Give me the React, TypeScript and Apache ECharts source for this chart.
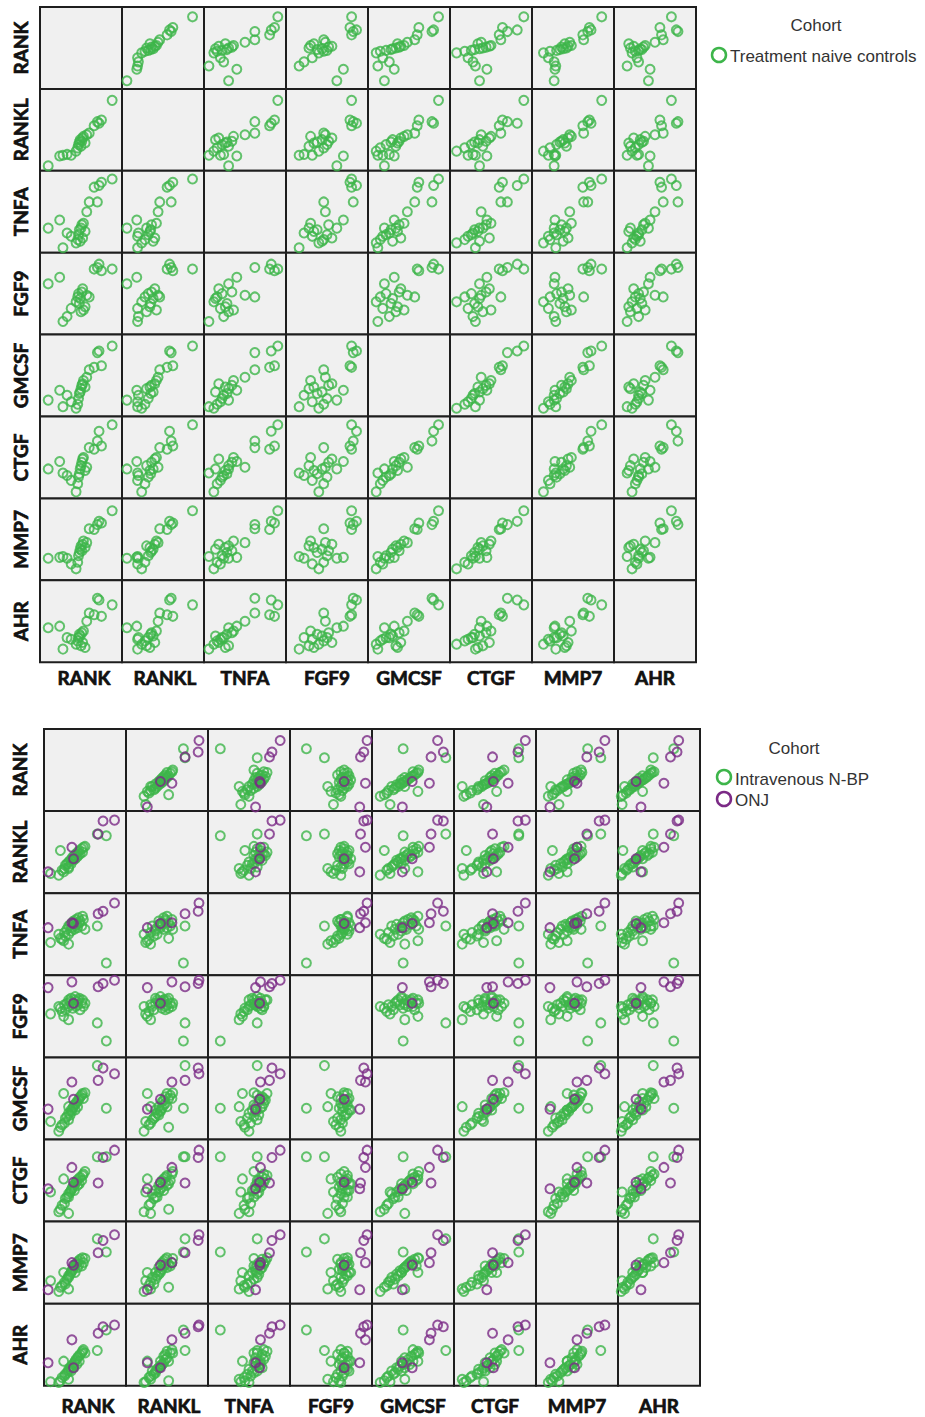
import React, { useEffect, useRef } from "react";
import * as echarts from "echarts";

const VARS = ["RANK", "RANKL", "TNFA", "FGF9", "GMCSF", "CTGF", "MMP7", "AHR"];

// Cohort 1: Treatment naive controls (one entry per subject)
const naiveRANK = [10, 24, 28, 33, 38, 44, 46, 47, 48, 49, 50, 51, 52, 53, 55, 57, 60, 66, 70, 72, 75, 88];
const naiveRANKL = [6, 18, 19, 20, 19, 24, 28, 32, 35, 38, 30, 36, 40, 42, 34, 44, 46, 55, 60, 58, 62, 86];
const naiveTNFA = [30, 40, 6, 24, 20, 12, 16, 22, 28, 14, 30, 34, 18, 36, 26, 50, 62, 80, 62, 82, 86, 90];
const naiveFGF9 = [62, 70, 16, 22, 32, 40, 46, 50, 38, 44, 28, 52, 56, 30, 34, 48, 46, 80, 82, 86, 78, 80];
const naiveGMCSF = [20, 32, 12, 26, 18, 10, 15, 22, 28, 30, 34, 38, 40, 44, 36, 48, 57, 60, 78, 80, 62, 86];
const naiveCTGF = [36, 45, 31, 28, 22, 8, 18, 26, 30, 36, 40, 44, 48, 50, 34, 38, 62, 60, 70, 82, 64, 90];
const naiveMMP7 = [27, 28, 29, 27, 20, 14, 22, 30, 34, 38, 42, 36, 44, 48, 40, 46, 63, 62, 68, 72, 70, 85];
const naiveAHR = [42, 44, 16, 30, 28, 22, 26, 30, 34, 32, 20, 36, 24, 38, 18, 50, 60, 58, 78, 76, 56, 70];

// Cohort 2a: Intravenous N-BP
const ivRANK = [8, 76, 65, 20, 18, 22, 25, 26, 28, 30, 30, 32, 33, 34, 35, 36, 37, 38, 39, 40, 41, 42, 43, 44, 46, 47, 48, 50, 30, 24];
const ivRANKL = [24, 70, 72, 52, 22, 28, 30, 34, 36, 32, 38, 40, 36, 42, 44, 40, 46, 42, 48, 44, 50, 46, 52, 48, 54, 50, 56, 57, 30, 26];
const ivTNFA = [40, 15, 60, 45, 50, 44, 52, 48, 56, 60, 50, 62, 54, 58, 64, 66, 56, 60, 68, 62, 58, 70, 64, 66, 60, 72, 68, 56, 38, 42];
const ivFGF9 = [53, 20, 42, 60, 62, 56, 64, 58, 66, 62, 70, 68, 72, 64, 60, 66, 70, 74, 62, 68, 64, 70, 72, 58, 66, 70, 62, 66, 46, 50];
const ivGMCSF = [22, 38, 90, 15, 10, 18, 20, 26, 28, 24, 32, 30, 36, 34, 38, 40, 42, 36, 44, 46, 40, 48, 50, 52, 54, 56, 50, 57, 40, 56];
const ivCTGF = [36, 79, 79, 15, 12, 20, 22, 28, 30, 34, 30, 36, 38, 40, 42, 44, 38, 46, 48, 50, 44, 52, 46, 54, 50, 56, 58, 61, 10, 52];
const ivMMP7 = [28, 63, 79, 20, 15, 22, 26, 24, 30, 32, 34, 36, 38, 40, 42, 44, 46, 38, 48, 50, 44, 52, 48, 54, 46, 56, 50, 55, 18, 38];
const ivAHR = [5, 68, 43, 6, 4, 10, 12, 14, 16, 18, 20, 22, 18, 24, 26, 22, 28, 30, 32, 26, 34, 36, 30, 38, 40, 42, 44, 40, 8, 30];

// Cohort 2b: ONJ
const onjRANK = [5, 34, 36, 66, 72, 86];
const onjRANKL = [26, 56, 42, 72, 88, 89];
const onjTNFA = [58, 64, 63, 75, 78, 88];
const onjFGF9 = [85, 92, 66, 86, 90, 94];
const onjGMCSF = [37, 70, 49, 72, 87, 80];
const onjCTGF = [40, 66, 48, 47, 78, 87];
const onjMMP7 = [17, 50, 47, 62, 77, 84];
const onjAHR = [28, 56, 22, 64, 72, 74];

const naive = [naiveRANK, naiveRANKL, naiveTNFA, naiveFGF9, naiveGMCSF, naiveCTGF, naiveMMP7, naiveAHR];
const iv = [ivRANK, ivRANKL, ivTNFA, ivFGF9, ivGMCSF, ivCTGF, ivMMP7, ivAHR];
const onj = [onjRANK, onjRANKL, onjTNFA, onjFGF9, onjGMCSF, onjCTGF, onjMMP7, onjAHR];

const GREEN = "#3db54a";
const PURPLE = "#7b2a86";

function buildOption() {
  const grid: any[] = [];
  const xAxis: any[] = [];
  const yAxis: any[] = [];
  const series: any[] = [];
  const graphic: any[] = [];

  const matrices = [
    { left: 40, top: 7, w: 82, h: 81.9, groups: [{ d: naive, c: GREEN }], rowX: 20, colY: 677 },
    { left: 44, top: 729, w: 82, h: 82.1, groups: [{ d: iv, c: GREEN }, { d: onj, c: PURPLE }], rowX: 19, colY: 1405 },
  ];

  const labelStyle = {
    fontFamily: "Lato",
    fontWeight: "bold",
    fontSize: 19,
    fill: "#111",
    stroke: "#111",
    lineWidth: 0.7,
    textAlign: "center",
    textVerticalAlign: "middle",
  };

  matrices.forEach((m) => {
    for (let i = 0; i < 8; i++) {
      for (let j = 0; j < 8; j++) {
        const idx = grid.length;
        grid.push({
          left: m.left + j * m.w,
          top: m.top + i * m.h,
          width: m.w,
          height: m.h,
          show: true,
          backgroundColor: "#f0f0f0",
          borderColor: "#1e1e1e",
          borderWidth: 2,
          containLabel: false,
        });
        const ax = { gridIndex: idx, type: "value", min: 0, max: 100, show: false };
        xAxis.push({ ...ax });
        yAxis.push({ ...ax });
        if (i !== j) {
          m.groups.forEach((g) => {
            const xs = g.d[j];
            const ys = g.d[i];
            series.push({
              type: "scatter",
              xAxisIndex: idx,
              yAxisIndex: idx,
              data: xs.map((v, k) => [v, ys[k]]),
              symbol: "circle",
              symbolSize: 9,
              clip: true,
              silent: true,
              itemStyle: { color: "rgba(0,0,0,0)", borderColor: g.c, borderWidth: 2 },
            });
          });
        }
      }
    }
    VARS.forEach((v, i) => {
      graphic.push({
        type: "text",
        x: m.rowX,
        y: m.top + (i + 0.5) * m.h,
        rotation: Math.PI / 2,
        style: { text: v, ...labelStyle },
      });
      graphic.push({
        type: "text",
        x: m.left + (i + 0.5) * m.w + (i === 0 ? 3 : i === 1 ? 2 : 0),
        y: m.colY,
        style: { text: v, ...labelStyle },
      });
    });
  });

  const legendText = (text: string, x: number, y: number, align = "left") => ({
    type: "text",
    x,
    y,
    style: {
      text,
      fontFamily: "Liberation Sans",
      fontSize: 17,
      fill: "#333",
      textAlign: align,
      textVerticalAlign: "middle",
    },
  });
  const legendCircle = (cx: number, cy: number, c: string) => ({
    type: "circle",
    shape: { cx, cy, r: 7 },
    style: { fill: "none", stroke: c, lineWidth: 2.5 },
  });

  graphic.push(legendText("Cohort", 816, 25, "center"));
  graphic.push(legendCircle(719, 55, GREEN));
  graphic.push(legendText("Treatment naive controls", 730, 56));

  graphic.push(legendText("Cohort", 794, 748, "center"));
  graphic.push(legendCircle(724, 777, GREEN));
  graphic.push(legendText("Intravenous N-BP", 735, 779));
  graphic.push(legendCircle(724, 799, PURPLE));
  graphic.push(legendText("ONJ", 735, 800));

  return {
    animation: false,
    backgroundColor: "#ffffff",
    grid,
    xAxis,
    yAxis,
    series,
    graphic,
  };
}

export default function App() {
  const ref = useRef<HTMLDivElement>(null);
  useEffect(() => {
    if (!ref.current) return;
    const chart = echarts.init(ref.current, null, { renderer: "svg" });
    chart.setOption(buildOption() as any);
    return () => chart.dispose();
  }, []);
  return (
    <div
      ref={ref}
      style={{ position: "absolute", left: 0, top: 0, width: 925, height: 1417 }}
    />
  );
}
